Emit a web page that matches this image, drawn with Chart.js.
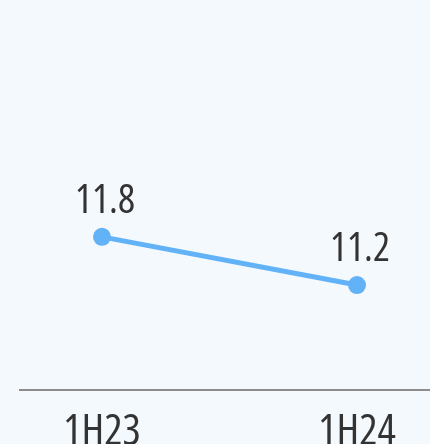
<!DOCTYPE html>
<html>
<head>
<meta charset="utf-8">
<script src="https://cdn.jsdelivr.net/npm/chart.js@4/dist/chart.umd.min.js"></script>
<style>
  html, body { margin: 0; padding: 0; background: #f4f9fd; overflow: hidden; width: 430px; height: 444px; }
  /* el lienzo es 9px más ancho: el padding mínimo de los puntos queda fuera de la vista */
  #wrap { width: 439px; height: 444px; position: relative; }
</style>
</head>
<body>
<div id="wrap"><canvas id="chart"></canvas></div>
<script>
// Datos del gráfico
const periods = ['1H23', '1H24'];
const values = [11.8, 11.2];

const LINE_COLOR = '#62b2f8';
const TEXT_COLOR = '#333333';
// Open Sans condensada (el "weight" de Chart.js se cuela tal cual en la cadena de fuente)
const FAMILY = "'Open Sans', 'Noto Sans', sans-serif";
const TICK_FONT = { family: FAMILY, size: 43, weight: 'condensed' };
const LABEL_FONT = `condensed 40px ${FAMILY}`;

// Etiquetas de valor encima de cada punto
const valueLabels = {
    id: 'valueLabels',
    afterDatasetsDraw(chart) {
        const ctx = chart.ctx;
        const meta = chart.getDatasetMeta(0);
        ctx.save();
        ctx.font = LABEL_FONT;
        ctx.fillStyle = TEXT_COLOR;
        ctx.textAlign = 'center';
        ctx.textBaseline = 'alphabetic';
        meta.data.forEach((pt, i) => {
            ctx.fillText(values[i].toFixed(1), pt.x + 3, pt.y - 24);
        });
        ctx.restore();
    },
};

new Chart(document.getElementById('chart'), {
    type: 'line',
    data: {
        datasets: [{
            data: values.map((v, i) => ({ x: i, y: v })),
            borderColor: LINE_COLOR,
            backgroundColor: LINE_COLOR,
            borderWidth: 5,
            pointRadius: 9,
            pointBorderWidth: 0,
            pointBackgroundColor: LINE_COLOR,
            tension: 0,
            fill: false,
        }],
    },
    options: {
        responsive: true,
        maintainAspectRatio: false,
        animation: false,
        layout: { padding: { left: 20, right: 0, top: 0, bottom: -24 } },
        plugins: {
            legend: { display: false },
            tooltip: { enabled: false },
        },
        scales: {
            x: {
                type: 'linear',
                min: -0.3216,
                max: 1.2863,
                afterBuildTicks: (axis) => {
                    axis.ticks = periods.map((_, i) => ({ value: i }));
                },
                grid: { display: false },
                border: { display: true, color: '#8c8c8c', width: 2 },
                ticks: {
                    autoSkip: false,
                    maxRotation: 0,
                    padding: 9,
                    color: TEXT_COLOR,
                    font: TICK_FONT,
                    callback: (v) => periods[v] ?? '',
                },
            },
            y: {
                display: false,
                min: 9.8875,
                max: 14.6375,
            },
        },
    },
    plugins: [valueLabels],
});
</script>
</body>
</html>
